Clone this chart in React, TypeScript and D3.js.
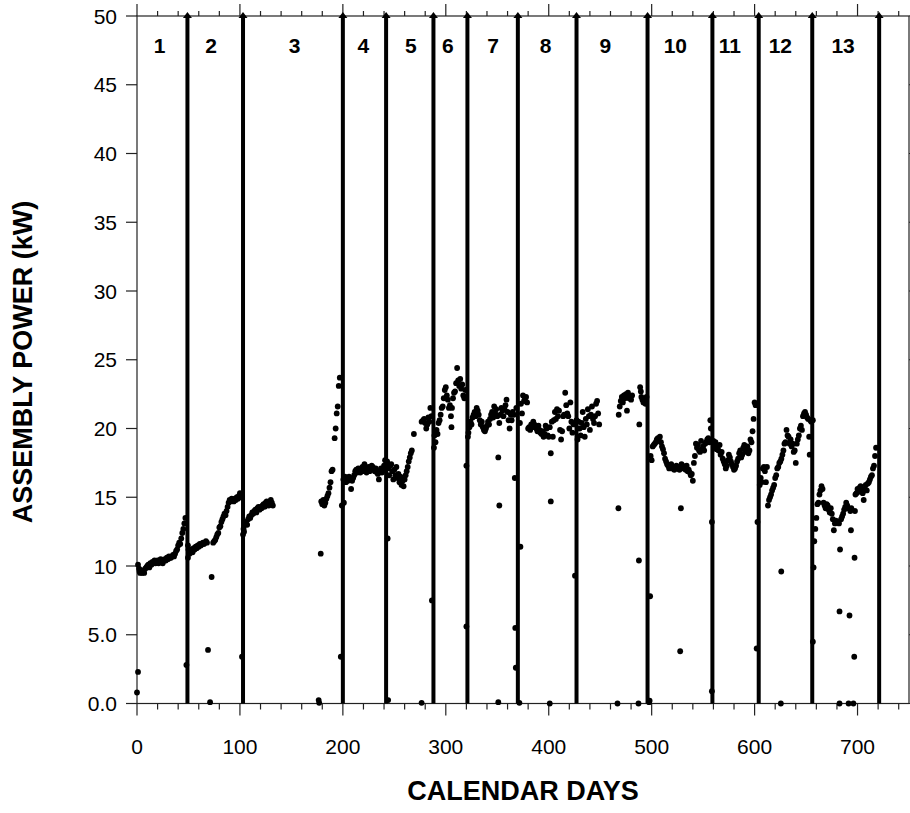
import React from "react";
import * as d3 from "d3";

// Segment boundaries (calendar days) and segment labels
const boundaries = [49, 103, 200, 242, 288, 321, 370, 427, 496, 559, 604, 656, 721];
const segmentLabels = ["1","2","3","4","5","6","7","8","9","10","11","12","13"];
const segmentLabelDays = [22, 72, 153, 220, 266, 302, 346, 397, 455, 523, 576, 625, 686];

const xTicks = [0, 100, 200, 300, 400, 500, 600, 700];
const yTicks = [0, 5, 10, 15, 20, 25, 30, 35, 40, 45, 50];

// [day, kW]
const seg1: [number, number][] = [
  [0,0.8],[1,2.3],
  [1,10.1],[2,9.8],[2.5,9.6],[3,9.5],[4,9.7],[5,9.5],[6,9.6],[7,9.5],[8,9.8],[9,9.9],[10,10.0],[11,10.1],[12,9.9],[13,10.2],[14,10.1],[15,10.3],[16,10.2],[17,10.4],[18,10.2],[19,10.3],[20,10.4],[21,10.2],[22,10.4],[23,10.5],[24,10.3],[25,10.2],[26,10.4],[27,10.5],[28,10.4],[29,10.6],[30,10.5],[31,10.7],[32,10.6],[33,10.6],[34,10.7],[35,10.8],[36,10.7],[37,10.9],[38,11.1],[39,11.2],[40,11.5],[41,11.7],[42,11.6],[43,12.0],[44,12.4],[45,12.7],[46,13.1],[47,13.5],[48,2.8]
];
const seg2: [number, number][] = [
  [49.5,10.6],[49.5,11.5],[50,11.2],[51,10.9],[52,11.1],[53,11.2],[54,11.0],[55,11.3],[56,11.2],[57,11.4],[58,11.3],[59,11.5],[60,11.4],[61,11.6],[62,11.5],[63,11.6],[64,11.7],[65,11.6],[66,11.7],[67,11.8],[68,11.7],[69,3.9],[71,0.1],[72.5,9.2],[74,11.7],[75,11.8],[76,11.9],[77,12.1],[78,12.3],[79,12.4],[80,12.8],[81,12.9],[82,13.2],[83,13.4],[84,13.6],[85,13.8],[86,13.7],[87,14.0],[88,14.3],[89,14.6],[90,14.8],[91,14.7],[92,14.9],[93,14.8],[94,14.7],[95,14.9],[96,14.8],[97,15.0],[98,14.9],[99,15.1],[100,15.3],[101,15.0],[102,3.4]
];
const seg3: [number, number][] = [
  [103,12.3],[103.5,12.7],[104,12.5],[105,13.0],[106,13.2],[107,13.0],[108,13.4],[109,13.6],[110,13.5],[111,13.7],[112,13.9],[113,13.8],[114,14.0],[115,14.1],[116,13.9],[117,14.2],[118,14.3],[119,14.1],[120,14.3],[121,14.2],[122,14.4],[123,14.5],[124,14.3],[125,14.6],[126,14.7],[127,14.5],[128,14.4],[129,14.6],[130,14.8],[131,14.6],[132,14.4],
  [176.5,0.25],[177,0.05],[178.5,10.9],[179,14.7],[180,14.5],[181,14.8],[182,14.4],[183,14.6],[184,14.9],[185,15.1],[186,15.3],[187,15.7],[188,16.1],[189,16.9],[190,17.0],[192,19.3],[193,20.0],[194,21.1],[195,21.6],[196,23.1],[197,23.7],[198,3.4],[199,14.4]
];
const seg4: [number, number][] = [
  [200.5,16.3],[201,14.6],[202,16.5],[203,16.1],[204,16.4],[205,16.2],[206,16.5],[207,16.3],[208,15.6],[209,16.2],[210,16.4],[211,16.6],[212,16.9],[213,17.0],[214,16.8],[215,17.1],[216,16.9],[217,16.8],[218,17.0],[219,17.2],[220,16.9],[221,17.4],[222,17.1],[223,16.8],[224,17.0],[225,17.2],[226,16.9],[227,17.1],[228,17.3],[229,17.2],[230,17.0],[231,16.9],[232,17.1],[233,16.8],[234,16.7],[235,16.3],[236,16.9],[237,17.1],[238,16.8],[239,17.0],[240,17.3],[241,17.7]
];
const seg5: [number, number][] = [
  [243,17.6],[243.5,12.0],[244,0.25],[244,17.1],[245,16.6],[246,17.3],[247,17.4],[248,16.9],[249,16.3],[250,17.0],[251,16.6],[252,17.2],[253,16.4],[254,16.7],[255,16.1],[256,16.5],[257,15.9],[258,16.2],[259,15.8],[260,16.3],[261,16.6],[262,16.9],[263,17.2],[264,17.6],[265,17.9],[266,18.2],[267,18.4],[269,19.6],
  [276.5,0.05],[276.5,20.5],[278,20.6],[279,20.7],[280,20.4],[281,20.0],[282,20.3],[283,20.8],[284,20.5],[285,21.5],[286,20.9],[286.5,7.5]
];
const seg6: [number, number][] = [
  [288.5,18.6],[289,19.5],[290,19.0],[291,19.9],[292,19.6],[293,20.4],[294,20.6],[295,21.0],[296,21.5],[297,21.6],[298,22.2],[299,22.8],[300,23.0],[301,22.4],[302,22.1],[303,21.5],[304,21.7],[305,20.9],[305.5,20.1],[306,21.5],[307,22.2],[308,22.6],[309,22.7],[310,23.3],[311,24.4],[312,23.5],[313,23.1],[314,23.6],[315,22.9],[316,23.2],[317,22.4],[318,22.2],[319,22.8],[320,17.3],[320,5.6]
];
const seg7: [number, number][] = [
  [321.5,19.4],[322,19.7],[323,20.1],[324,20.5],[325,20.3],[326,20.8],[327,21.0],[328,21.2],[329,20.9],[330,21.5],[331,21.3],[332,21.0],[333,20.6],[334,20.3],[335,20.5],[336,20.1],[337,19.9],[338,19.8],[339,20.0],[340,20.2],[341,20.5],[342,20.3],[343,20.7],[344,21.0],[345,21.2],[346,20.8],[347,21.6],[348,21.1],[349,21.4],[350,20.9],[351,17.9],[351,0.1],[352,14.4],[352,20.4],[353,21.0],[354,21.5],[355,21.3],[356,20.9],[357,21.4],[358,21.7],[359,22.1],[360,21.2],[361,20.6],[362,20.0],[363,21.0],[364,20.6],[365,21.2],[366,21.0],[367,16.4],[367.5,5.5],[368,2.6],[368.5,21.5]
];
const seg8: [number, number][] = [
  [371.5,0.05],[372,20.4],[372.5,11.4],[373,21.8],[374,21.1],[375,22.4],[376,22.0],[377,22.2],[378,22.3],[379,21.9],[380,20.0],[381,20.1],[382,19.9],[383,20.3],[384,20.1],[385,20.5],[386,20.3],[387,20.1],[388,20.0],[389,19.8],[390,20.2],[391,19.9],[392,19.7],[393,19.6],[394,19.8],[395,19.4],[396,19.6],[397,20.2],[398,20.0],[399,19.5],[400,19.4],[401,0.0],[401,20.1],[402,18.2],[402,14.7],[403,20.5],[404,19.4],[405,20.6],[406,21.2],[407,20.7],[408,21.4],[409,20.9],[410,21.3],[411,19.9],[412,19.2],[413,19.8],[414,20.9],[415,21.0],[416,22.6],[417,21.7],[418,21.1],[419,20.9],[420,20.0],[421,21.9],[422,20.5],[423,19.7],[424,20.3],[425.5,9.3]
];
const seg9: [number, number][] = [
  [427,20.6],[428,19.2],[429,20.5],[430,20.0],[431,19.5],[432,20.4],[433,21.2],[434,20.1],[435,19.4],[436,20.7],[437,20.3],[438,21.4],[439,20.9],[440,19.9],[441,21.0],[442,21.6],[443,20.7],[444,20.4],[445,20.9],[446,21.8],[447,22.0],[448,21.1],[449,20.3],
  [466.8,0.0],[467.7,14.2],[468,21.0],[469,21.6],[470,22.0],[471,22.3],[472,21.9],[473,22.4],[474,22.2],[475,22.5],[476,21.3],[477,22.6],[478,22.2],[479,22.3],[480,22.1],[481,22.4],[487.2,0.0],[487.6,10.4],[488,20.3],[488.8,23.0],[489.5,22.7],[490,22.3],[491,22.1],[492,21.9],[493,22.0],[494,21.8],[495,22.3]
];
const seg10: [number, number][] = [
  [497.5,0.1],[498,0.2],[498.5,7.8],[499,18.0],[500,17.7],[501,18.7],[502,18.8],[503,18.9],[504,19.0],[505,19.2],[506,19.3],[507,19.1],[508,19.4],[509,19.0],[510,18.7],[511,18.5],[512,18.2],[513,17.8],[514,17.6],[515,17.4],[516,17.3],[517,17.1],[518,17.2],[519,17.4],[520,17.1],[521,17.2],[522,17.0],[523,17.1],[524,17.3],[525,17.1],[526,17.2],[527,17.0],[527.7,3.8],[528.4,14.2],[529,17.4],[530,17.3],[531,17.1],[532,17.2],[533,17.0],[534,17.3],[535,16.9],[536,17.0],[537,16.8],[538,16.6],[539,16.7],[540,16.2],[541,17.5],[542,18.0],[543,18.9],[544,18.6],[545,18.8],[546,18.4],[547,18.3],[548,19.1],[549,18.5],[550,18.7],[551,18.4],[552,18.9],[553,19.0],[554,19.2],[555,19.3],[556,19.0],[557,20.6],[557.5,20.0]
];
const seg11: [number, number][] = [
  [558.5,13.2],[558.5,0.9],[560,19.1],[561,18.8],[562,19.0],[563,18.5],[564,18.7],[565,18.4],[566,18.8],[567,18.1],[568,18.3],[569,17.8],[570,17.6],[571,17.4],[572,17.1],[573,17.3],[574,17.7],[575,18.1],[576,17.9],[577,17.6],[578,17.4],[579,17.2],[580,17.0],[581,17.1],[582,17.3],[583,17.6],[584,17.8],[585,18.2],[586,18.4],[587,17.9],[588,18.1],[589,18.6],[590,18.8],[591,18.3],[592,18.5],[593,18.7],[594,18.2],[595,18.4],[596,19.2],[597,19.0],[598,19.8],[599,20.7],[600,21.9],[601,21.7],[602,4.0],[602.8,13.2]
];
const seg12: [number, number][] = [
  [605,15.9],[606,16.4],[607,16.1],[608,17.1],[609,17.2],[610,16.9],[611,16.1],[612,17.2],[613,14.4],[614,14.8],[615,15.0],[616,15.2],[617,15.5],[618,15.7],[619,15.9],[620,16.4],[621,16.6],[622,17.1],[623,17.2],[624,17.5],[625,17.6],[625.5,0.0],[625.9,9.6],[626,17.8],[627,18.1],[628,18.4],[629,18.9],[630,19.0],[631,19.9],[632,19.5],[633,19.4],[634,18.9],[635,19.2],[636,18.7],[637,18.9],[638,18.3],[639,18.4],[640,17.5],[641,18.9],[642,19.2],[643,19.5],[644,20.0],[645,20.2],[646,19.9],[647,20.9],[648,21.1],[649,21.2],[650,21.0],[651,20.8],[652,20.7],[653,19.4],[653.5,18.1],[654,20.6],[655,20.5]
];
const seg13: [number, number][] = [
  [656.6,4.5],[656.6,20.6],[657.3,9.9],[658,11.8],[659,12.7],[660,13.5],[661,14.5],[662,14.6],[663,15.2],[664,15.5],[665,15.8],[666,15.6],[667,14.6],[668,14.4],[669,14.2],[670,14.5],[671,14.4],[672,14.1],[673,13.9],[674,14.2],[675,13.8],[676,13.4],[677,12.6],[678,13.1],[679,13.3],[680,13.2],[681,13.2],[682,13.1],[682.5,6.7],[682.5,0.0],[683,11.2],[684,13.4],[685,13.6],[686,13.8],[687,14.1],[688,14.3],[689,14.6],[690,14.4],[691,14.2],[691.3,0.0],[692.2,6.4],[693,14.0],[693.6,12.6],[694,14.2],[696,0.0],[696.8,3.4],[697.1,10.6],[697.5,14.0],[698,15.2],[699,15.3],[700,15.6],[701,15.4],[702,15.7],[703,15.8],[704,15.5],[705,15.3],[706,14.8],[707,15.6],[708,15.9],[709,15.5],[710,16.0],[711,16.1],[712,16.3],[713,16.5],[714,16.6],[715,17.1],[716,17.3],[717,18.0],[718,18.6]
];

const allPoints = [seg1, seg2, seg3, seg4, seg5, seg6, seg7, seg8, seg9, seg10, seg11, seg12, seg13].flat();

const W = 910;
const H = 813;
const LEFT = 137;
const RIGHT = 909;
const TOP = 16;
const BOTTOM = 703.5;
const FONT = "'Liberation Sans', Arial, Helvetica, sans-serif";

export default function App() {
  const x = d3.scaleLinear().domain([0, 750]).range([LEFT, RIGHT]);
  const y = d3.scaleLinear().domain([0, 50]).range([BOTTOM, TOP]);
  const minorX = d3.range(0, 750, 20).filter((d) => d % 100 !== 0);
  const majorX = d3.range(0, 751, 100);
  const fmtY = (v: number) => (v < 10 ? v.toFixed(1) : String(v));

  return (
    <svg width={W} height={H} style={{ position: "absolute", left: 0, top: 0, display: "block", background: "#fff" }}>
      <rect x={0} y={0} width={W} height={H} fill="#fff" />
      {/* frame */}
      <rect x={LEFT} y={TOP} width={RIGHT - LEFT} height={BOTTOM - TOP} fill="none" stroke="#222" strokeWidth={1.2} />
      {/* x ticks bottom and top */}
      {majorX.map((d) => (
        <g key={"mx" + d}>
          <line x1={x(d)} x2={x(d)} y1={BOTTOM} y2={BOTTOM + 12} stroke="#222" strokeWidth={1.2} />
          <line x1={x(d)} x2={x(d)} y1={TOP} y2={TOP - 12} stroke="#222" strokeWidth={1.2} />
        </g>
      ))}
      {minorX.map((d) => (
        <g key={"nx" + d}>
          <line x1={x(d)} x2={x(d)} y1={BOTTOM} y2={BOTTOM + 6} stroke="#222" strokeWidth={1.2} />
          <line x1={x(d)} x2={x(d)} y1={TOP} y2={TOP - 5} stroke="#222" strokeWidth={1.2} />
        </g>
      ))}
      {xTicks.map((d) => (
        <text key={"lx" + d} x={x(d)} y={BOTTOM + 50} textAnchor="middle" fontFamily={FONT} fontSize={21} fill="#000">
          {d}
        </text>
      ))}
      {/* y ticks */}
      {yTicks.map((v) => (
        <g key={"y" + v}>
          <line x1={LEFT - 11} x2={LEFT} y1={y(v)} y2={y(v)} stroke="#222" strokeWidth={1.2} />
          <line x1={RIGHT} x2={RIGHT + 4} y1={y(v)} y2={y(v)} stroke="#222" strokeWidth={1.2} />
          <text x={LEFT - 20} y={y(v)} dy="0.36em" textAnchor="end" fontFamily={FONT} fontSize={21} fill="#000">
            {fmtY(v)}
          </text>
        </g>
      ))}
      {/* data points */}
      {allPoints.map(([d, v], i) => (
        <circle key={"p" + i} cx={x(d)} cy={y(v)} r={2.9} fill="#000" />
      ))}
      {/* boundary arrows */}
      {boundaries.map((d) => (
        <g key={"b" + d}>
          <line x1={x(d)} x2={x(d)} y1={y(0)} y2={y(50) + 1} stroke="#000" strokeWidth={4} />
          <path d={`M${x(d)},${y(50) - 4} L${x(d) - 4.5},${y(50) + 2} L${x(d) + 4.5},${y(50) + 2} Z`} fill="#000" />
        </g>
      ))}
      {/* segment labels */}
      {segmentLabels.map((s, i) => (
        <text key={"s" + s} x={x(segmentLabelDays[i])} y={53} textAnchor="middle" fontFamily={FONT} fontWeight="bold" fontSize={21} fill="#000">
          {s}
        </text>
      ))}
      {/* axis titles */}
      <text x={523} y={800} textAnchor="middle" fontFamily={FONT} fontWeight="bold" fontSize={27} fill="#000">
        CALENDAR DAYS
      </text>
      <text transform={`translate(32,362) rotate(-90)`} textAnchor="middle" fontFamily={FONT} fontWeight="bold" fontSize={27} fill="#000">
        ASSEMBLY POWER (kW)
      </text>
    </svg>
  );
}
